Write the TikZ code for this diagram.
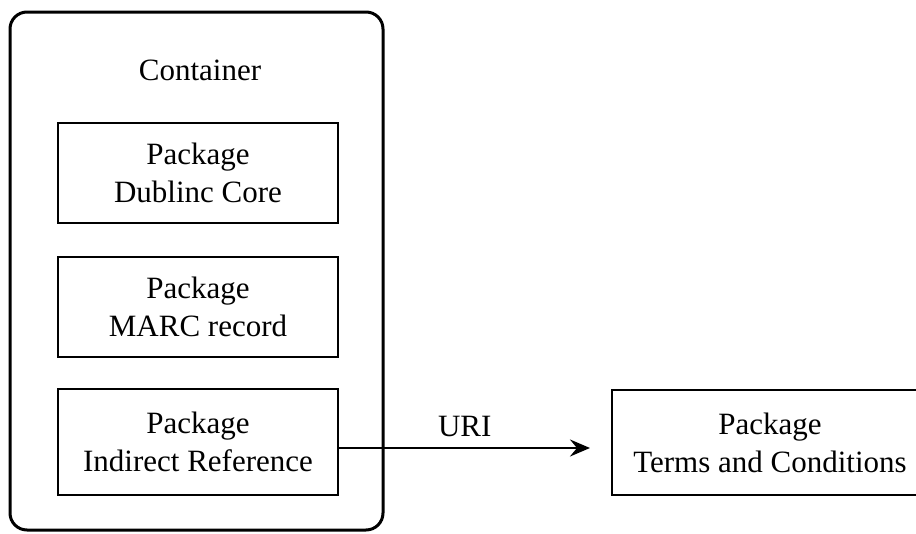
\documentclass[tikz,border=0pt]{standalone}
\usepackage{fontspec}
\setmainfont{Liberation Serif}
\usetikzlibrary{arrows.meta}
\begin{document}
\begin{tikzpicture}[x=1pt,y=-1pt,
  txt/.style={font=\fontsize{31}{38}\selectfont, align=center},
  pkgbox/.style={txt, draw, line width=2.8pt, inner sep=0pt,
    minimum width=280pt, minimum height=100pt},
  holder/.style={draw, line width=3pt, rounded corners=17pt, inner sep=0pt,
    minimum width=373pt, minimum height=518pt},
  link/.style={line width=2.8pt, -{Stealth[length=20pt,width=17pt,inset=7pt]}}]
\useasboundingbox (0,0) rectangle (916,533);

% outer container
\node[holder] (cont) at (196.5,271) {};
\node[txt] (conttitle) at (200,70) {Container};

% packages held inside the container
\node[pkgbox] (dc) at (198,173) {Package\\Dublinc Core};
\node[pkgbox] (marc) at (198,307) {Package\\MARC record};
\node[pkgbox, minimum height=106pt] (indirect) at (198,442) {Package\\Indirect Reference};

% package referenced from outside
\node[pkgbox, minimum width=316pt, minimum height=105pt] (terms) at (770,442.5)
  {Package\\Terms and Conditions};

% reference by URI
\coordinate (uriend) at (590,448);
\draw[link] ([yshift=-6pt]indirect.east) -- (uriend)
  node[txt, midway, anchor=south, inner sep=0pt, yshift=10pt] (uri) {URI};
\end{tikzpicture}
\end{document}
